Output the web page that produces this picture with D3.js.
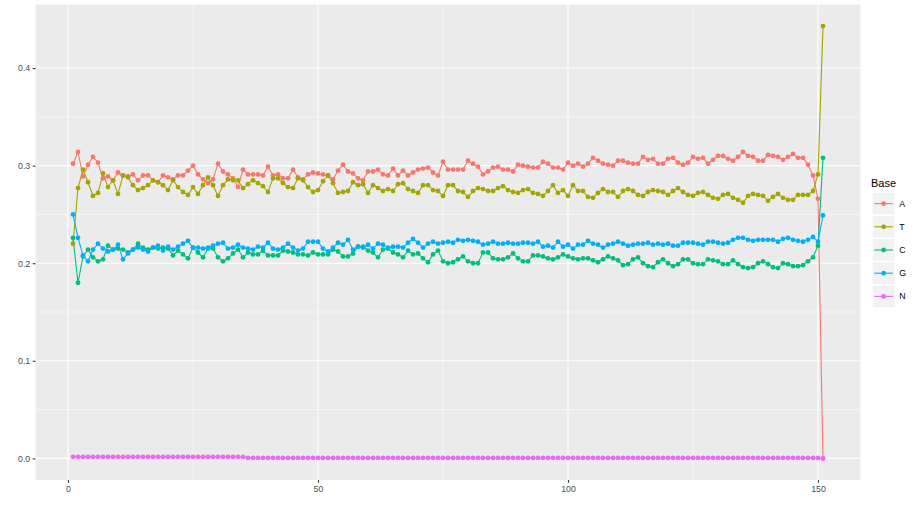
<!DOCTYPE html>
<html>
<head>
<meta charset="utf-8">
<script src="https://cdn.jsdelivr.net/npm/d3@7"></script>
<style>
  body { margin: 0; background: #fff; }
  svg text { font-family: "Liberation Sans", Arial, Helvetica, sans-serif; }
</style>
</head>
<body>
<div id="chart" style="width:924px;height:512px"></div>
<script>
// per-position base composition, positions 1..151
const bases = ['A', 'T', 'C', 'G', 'N'];
const colors = ['#F8766D', '#A3A500', '#00BF7D', '#00B0F6', '#E76BF3'];

const seriesA = [
  0.302,0.314,0.289,0.301,0.309,0.303,0.287,0.289,0.285,0.293,0.290,0.289,0.291,0.285,0.290,0.290,0.285,0.283,0.290,0.288,0.286,0.290,0.290,0.295,0.300,0.291,
  0.286,0.282,0.286,0.302,0.294,0.291,0.287,0.278,0.296,0.291,0.291,0.291,0.290,0.299,0.290,0.291,0.287,0.287,0.296,0.288,0.286,0.291,0.293,0.292,0.291,0.290,
  0.286,0.295,0.301,0.294,0.292,0.287,0.285,0.294,0.294,0.296,0.291,0.290,0.297,0.290,0.295,0.290,0.293,0.296,0.297,0.298,0.293,0.290,0.304,0.296,0.296,0.296,
  0.296,0.305,0.302,0.299,0.291,0.294,0.298,0.299,0.296,0.296,0.294,0.301,0.300,0.299,0.298,0.298,0.304,0.302,0.298,0.298,0.296,0.303,0.300,0.302,0.299,0.302,
  0.308,0.305,0.302,0.301,0.300,0.305,0.305,0.303,0.302,0.302,0.309,0.306,0.307,0.302,0.302,0.307,0.308,0.303,0.301,0.303,0.309,0.307,0.308,0.302,0.306,0.310,
  0.310,0.307,0.305,0.309,0.314,0.310,0.309,0.305,0.305,0.311,0.310,0.309,0.306,0.309,0.312,0.308,0.308,0.301,0.290,0.266,0.000
];
const seriesT = [
  0.220,0.277,0.296,0.283,0.269,0.272,0.292,0.278,0.285,0.271,0.290,0.288,0.280,0.275,0.277,0.280,0.285,0.283,0.280,0.275,0.285,0.278,0.273,0.270,0.278,0.271,
  0.280,0.288,0.280,0.269,0.280,0.286,0.285,0.285,0.277,0.281,0.285,0.282,0.279,0.273,0.287,0.287,0.282,0.278,0.277,0.287,0.285,0.278,0.273,0.275,0.284,0.290,
  0.282,0.272,0.273,0.274,0.283,0.280,0.281,0.272,0.280,0.277,0.274,0.276,0.274,0.281,0.282,0.276,0.274,0.272,0.280,0.280,0.275,0.274,0.269,0.280,0.280,0.274,
  0.273,0.268,0.274,0.277,0.276,0.274,0.274,0.277,0.279,0.275,0.273,0.272,0.275,0.276,0.272,0.271,0.269,0.274,0.280,0.272,0.275,0.269,0.280,0.274,0.274,0.268,
  0.267,0.272,0.276,0.273,0.273,0.268,0.274,0.276,0.274,0.270,0.269,0.273,0.275,0.274,0.273,0.270,0.274,0.277,0.273,0.270,0.269,0.272,0.273,0.270,0.267,0.266,
  0.270,0.271,0.267,0.265,0.262,0.269,0.271,0.270,0.269,0.264,0.268,0.271,0.267,0.265,0.265,0.270,0.270,0.270,0.274,0.291,0.443
];
const seriesC = [
  0.226,0.180,0.207,0.214,0.206,0.202,0.204,0.218,0.214,0.215,0.214,0.211,0.214,0.220,0.216,0.214,0.216,0.215,0.216,0.215,0.208,0.213,0.209,0.205,0.216,0.211,
  0.206,0.215,0.215,0.206,0.202,0.205,0.210,0.214,0.206,0.211,0.209,0.209,0.213,0.208,0.208,0.208,0.213,0.212,0.211,0.209,0.209,0.208,0.211,0.209,0.209,0.209,
  0.214,0.212,0.207,0.207,0.210,0.217,0.217,0.213,0.211,0.206,0.214,0.215,0.211,0.209,0.206,0.213,0.209,0.210,0.205,0.201,0.209,0.213,0.202,0.200,0.201,0.204,
  0.207,0.202,0.200,0.200,0.211,0.211,0.205,0.204,0.204,0.206,0.210,0.205,0.202,0.202,0.208,0.208,0.207,0.205,0.204,0.206,0.209,0.207,0.205,0.204,0.205,0.205,
  0.203,0.201,0.204,0.207,0.205,0.203,0.198,0.199,0.204,0.206,0.200,0.197,0.196,0.201,0.204,0.200,0.197,0.199,0.204,0.204,0.200,0.199,0.199,0.204,0.203,0.202,
  0.199,0.199,0.203,0.199,0.196,0.195,0.196,0.200,0.202,0.199,0.196,0.195,0.200,0.199,0.197,0.197,0.198,0.202,0.206,0.218,0.308
];
const seriesG = [
  0.250,0.226,0.208,0.202,0.214,0.220,0.215,0.212,0.214,0.219,0.204,0.210,0.214,0.216,0.214,0.212,0.216,0.218,0.213,0.217,0.214,0.217,0.220,0.223,0.216,0.216,
  0.215,0.216,0.218,0.220,0.221,0.215,0.216,0.219,0.216,0.215,0.214,0.217,0.216,0.221,0.215,0.214,0.216,0.220,0.216,0.213,0.215,0.222,0.222,0.222,0.215,0.212,
  0.216,0.221,0.219,0.224,0.214,0.217,0.216,0.219,0.215,0.220,0.219,0.216,0.217,0.217,0.216,0.221,0.225,0.221,0.216,0.220,0.222,0.220,0.221,0.222,0.221,0.224,
  0.223,0.224,0.223,0.222,0.219,0.220,0.222,0.220,0.220,0.221,0.220,0.220,0.221,0.221,0.220,0.222,0.217,0.218,0.216,0.222,0.217,0.219,0.215,0.219,0.219,0.223,
  0.220,0.219,0.216,0.219,0.220,0.222,0.220,0.218,0.219,0.220,0.220,0.221,0.219,0.220,0.219,0.220,0.218,0.218,0.221,0.221,0.221,0.220,0.219,0.222,0.222,0.221,
  0.220,0.221,0.224,0.226,0.226,0.224,0.223,0.224,0.224,0.224,0.224,0.222,0.225,0.226,0.224,0.223,0.222,0.224,0.227,0.222,0.249
];
const seriesN = [
  0.0015,0.0015,0.0015,0.0015,0.0015,0.0015,0.0015,0.0015,0.0015,0.0015,0.0015,0.0015,0.0015,0.0015,0.0015,0.0015,0.0015,0.0015,0.0015,0.0015,0.0015,0.0015,0.0015,0.0015,0.0015,0.0015,
  0.0015,0.0015,0.0015,0.0015,0.0015,0.0015,0.0015,0.0015,0.0015,0.0005,0.0005,0.0005,0.0005,0.0005,0.0005,0.0005,0.0005,0.0005,0.0005,0.0005,0.0005,0.0005,0.0005,0.0005,0.0005,0.0005,
  0.0005,0.0005,0.0005,0.0005,0.0005,0.0005,0.0005,0.0005,0.0005,0.0005,0.0005,0.0005,0.0005,0.0005,0.0005,0.0005,0.0005,0.0005,0.0005,0.0005,0.0005,0.0005,0.0005,0.0005,0.0005,0.0005,
  0.0005,0.0005,0.0005,0.0005,0.0005,0.0005,0.0005,0.0005,0.0005,0.0005,0.0005,0.0005,0.0005,0.0005,0.0005,0.0005,0.0005,0.0005,0.0005,0.0005,0.0005,0.0005,0.0005,0.0005,0.0005,0.0005,
  0.0005,0.0005,0.0005,0.0005,0.0005,0.0005,0.0005,0.0005,0.0005,0.0005,0.0005,0.0005,0.0005,0.0005,0.0005,0.0005,0.0005,0.0005,0.0005,0.0005,0.0005,0.0005,0.0005,0.0005,0.0005,0.0005,
  0.0005,0.0005,0.0005,0.0005,0.0005,0.0005,0.0005,0.0005,0.0005,0.0005,0.0005,0.0005,0.0005,0.0005,0.0005,0.0005,0.0005,0.0005,0.0005,0.0005,0.000
];

const xTicks = [0, 50, 100, 150];
const xMinor = [25, 75, 125];
const yTicks = [0, 0.1, 0.2, 0.3, 0.4];
const yMinor = [0.05, 0.15, 0.25, 0.35];

const values = [seriesA, seriesT, seriesC, seriesG, seriesN];
const data = bases.map((b, k) => ({
    key: b,
    color: colors[k],
    values: values[k].map((v, i) => ({ pos: i + 1, value: v }))
}));

const width = 924, height = 512;
const margin = { t: 4.5, r: 63.5, b: 32, l: 35.5 };
const w = width - margin.l - margin.r;
const h = height - margin.t - margin.b;

const svg = d3.select('#chart').append('svg')
    .attr('width', width)
    .attr('height', height);

// ggplot style 5% expansion
const xExt = [1, 151];
const allVals = values.flat();
const yExt = [d3.min(allVals), d3.max(allVals)];
const xPad = (xExt[1] - xExt[0]) * 0.05;
const yPad = (yExt[1] - yExt[0]) * 0.05;

const scaleX = d3.scaleLinear()
    .domain([xExt[0] - xPad, xExt[1] + xPad])
    .range([0, w]);
const scaleY = d3.scaleLinear()
    .domain([yExt[0] - yPad, yExt[1] + yPad])
    .range([h, 0]);

const plot = svg.append('g')
    .attr('transform', `translate(${margin.l},${margin.t})`);

plot.append('rect')
    .attr('width', w).attr('height', h)
    .attr('fill', '#EBEBEB');

// grid
plot.append('g').selectAll('line').data(yMinor).enter().append('line')
    .attr('x1', 0).attr('x2', w)
    .attr('y1', d => scaleY(d)).attr('y2', d => scaleY(d))
    .attr('stroke', '#fff').attr('stroke-width', 0.55);
plot.append('g').selectAll('line').data(xMinor).enter().append('line')
    .attr('y1', 0).attr('y2', h)
    .attr('x1', d => scaleX(d)).attr('x2', d => scaleX(d))
    .attr('stroke', '#fff').attr('stroke-width', 0.55);
plot.append('g').selectAll('line').data(yTicks).enter().append('line')
    .attr('x1', 0).attr('x2', w)
    .attr('y1', d => scaleY(d)).attr('y2', d => scaleY(d))
    .attr('stroke', '#fff').attr('stroke-width', 1.1);
plot.append('g').selectAll('line').data(xTicks).enter().append('line')
    .attr('y1', 0).attr('y2', h)
    .attr('x1', d => scaleX(d)).attr('x2', d => scaleX(d))
    .attr('stroke', '#fff').attr('stroke-width', 1.1);

// axes
const axisY = d3.axisLeft(scaleY)
    .tickValues(yTicks)
    .tickFormat(d3.format('.1f'))
    .tickSize(2.75)
    .tickPadding(2.5);
const axisX = d3.axisBottom(scaleX)
    .tickValues(xTicks)
    .tickSize(2.75)
    .tickPadding(3.5);

const axisYNode = plot.append('g').attr('class', 'axis axis-y').call(axisY);
const axisXNode = plot.append('g').attr('class', 'axis axis-x')
    .attr('transform', `translate(0,${h})`).call(axisX);
[axisYNode, axisXNode].forEach(a => {
    a.select('.domain').remove();
    a.selectAll('line').attr('stroke', '#333333').attr('stroke-width', 1.1);
    a.selectAll('text').attr('fill', '#4D4D4D').style('font-size', '8.8px');
});

// lines, then points
const line = d3.line()
    .x(d => scaleX(d.pos))
    .y(d => scaleY(d.value));

plot.append('g').selectAll('path').data(data).enter().append('path')
    .attr('d', d => line(d.values))
    .attr('fill', 'none')
    .attr('stroke', d => d.color)
    .attr('stroke-width', 1.1);

plot.append('g').selectAll('g').data(data).enter().append('g')
    .attr('fill', d => d.color)
    .selectAll('circle').data(d => d.values).enter().append('circle')
    .attr('cx', d => scaleX(d.pos))
    .attr('cy', d => scaleY(d.value))
    .attr('r', 2.4);

// legend
const legend = svg.append('g').attr('transform', 'translate(871,171)');
legend.append('text')
    .attr('x', 0).attr('y', 16)
    .attr('fill', '#000')
    .style('font-size', '11px')
    .text('Base');
const keySize = 23.2;
const keys = legend.selectAll('.key').data(data).enter().append('g')
    .attr('class', 'key')
    .attr('transform', (d, i) => `translate(1,${21 + i * keySize})`);
keys.append('rect')
    .attr('width', keySize).attr('height', keySize)
    .attr('fill', '#F2F2F2')
    .attr('stroke', '#fff').attr('stroke-width', 1.5);
keys.append('line')
    .attr('x1', 2.3).attr('x2', keySize - 2.3)
    .attr('y1', keySize / 2).attr('y2', keySize / 2)
    .attr('stroke', d => d.color).attr('stroke-width', 1.1);
keys.append('circle')
    .attr('cx', keySize / 2).attr('cy', keySize / 2).attr('r', 2.4)
    .attr('fill', d => d.color);
keys.append('text')
    .attr('x', keySize + 4).attr('y', keySize / 2)
    .attr('dy', '0.35em')
    .attr('fill', '#000')
    .style('font-size', '8.8px')
    .text(d => d.key);
</script>
</body>
</html>
